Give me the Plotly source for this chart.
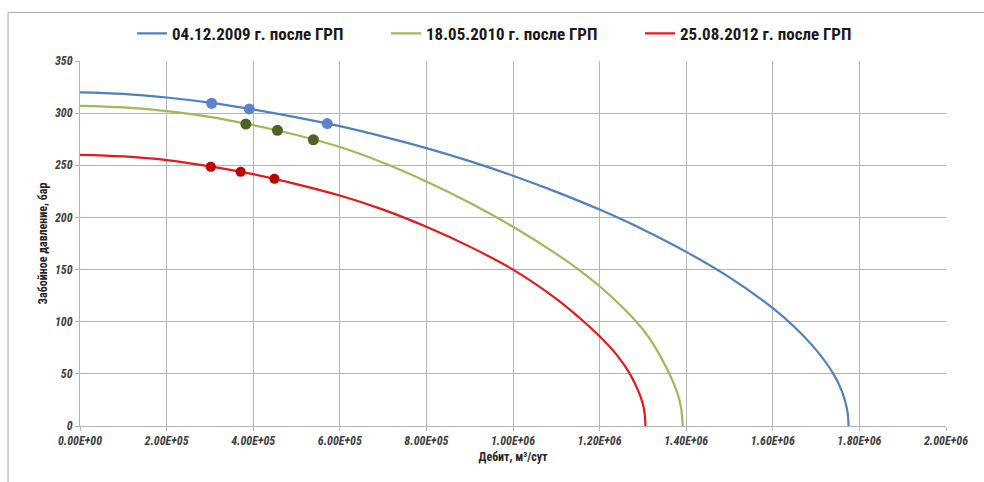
import plotly.graph_objects as go

# ---- data ----
# Дебит in units of 1e5 m3/сут, Забойное давление in бар
blue_q = [0, 1, 2, 3, 4, 5, 6, 7, 8, 9, 10, 11, 12, 13, 14, 15, 16, 16.5, 17.0, 17.4, 17.6, 17.7, 17.73, 17.75]
blue_p = [320, 318.5, 315, 310, 303.5, 296, 287.5, 277.5, 266.5, 254, 240, 224.5, 207.5, 188.5, 167, 142.5, 113, 95, 73, 50, 33, 19, 12, 0]

green_q = [0, 1, 2, 3, 4, 5, 6, 7, 8, 9, 10, 11, 11.5, 12, 12.5, 13, 13.3, 13.6, 13.8, 13.88, 13.92]
green_p = [307, 305.5, 302, 296.5, 288.5, 279, 267.5, 252.5, 234.5, 214, 191, 165, 150.5, 134, 115, 92.5, 74.5, 51, 31, 18, 0]

red_q = [0, 1, 2, 3, 4, 5, 6, 7, 8, 9, 10, 11, 11.5, 12, 12.4, 12.7, 12.9, 13.0, 13.04, 13.06]
red_p = [260, 258.5, 255, 249, 241.5, 232, 221, 207.5, 191, 172, 150, 122, 105, 86, 68, 50, 33, 21, 12, 0]

blue_pts_q = [3.04, 3.91, 5.71]
blue_pts_p = [309.5, 304, 290]
green_pts_q = [3.83, 4.56, 5.39]
green_pts_p = [289.5, 283.5, 274.5]
red_pts_q = [3.02, 3.71, 4.49]
red_pts_p = [248.5, 243.7, 237]

series_names = ["04.12.2009 г. после ГРП", "18.05.2010 г. после ГРП", "25.08.2012 г. после ГРП"]

x_tickvals = [0, 2e5, 4e5, 6e5, 8e5, 1e6, 1.2e6, 1.4e6, 1.6e6, 1.8e6, 2e6]
x_ticktext = ["0.00E+00", "2.00E+05", "4.00E+05", "6.00E+05", "8.00E+05", "1.00E+06",
              "1.20E+06", "1.40E+06", "1.60E+06", "1.80E+06", "2.00E+06"]
y_tickvals = [0, 50, 100, 150, 200, 250, 300, 350]

SCALE = 1e5

def sc(v):
    return [a * SCALE for a in v]

line_colors = ["#4F81BD", "#9BBB59", "#E3191B"]
dot_colors = ["#5B83C9", "#4F6228", "#C00000"]

fig = go.Figure()
curves = [(blue_q, blue_p), (green_q, green_p), (red_q, red_p)]
pts = [(blue_pts_q, blue_pts_p), (green_pts_q, green_pts_p), (red_pts_q, red_pts_p)]

for (q, p), name, col in zip(curves, series_names, line_colors):
    fig.add_trace(go.Scatter(x=sc(q), y=p, mode="lines", name=name,
                             line=dict(color=col, width=2.2, shape="spline", smoothing=1.0)))
for (q, p), col, sz in zip(pts, dot_colors, [11, 11, 10]):
    fig.add_trace(go.Scatter(x=sc(q), y=p, mode="markers", showlegend=False,
                             marker=dict(color=col, size=sz, line=dict(width=0))))

FONT = "Liberation Sans Narrow, Roboto Condensed, Roboto, Liberation Sans, sans-serif"
tick_font = dict(family=FONT, size=12, color="#404040", weight="bold", style="italic")
title_font = dict(family=FONT, size=12, color="#262626", weight="bold")

fig.update_layout(
    width=984, height=482,
    margin=dict(l=80, r=38, t=61, b=56, autoexpand=False),
    paper_bgcolor="white", plot_bgcolor="white",
    legend=dict(orientation="h", x=0.5, xanchor="center", yref="container", y=0.93,
                yanchor="middle", bgcolor="rgba(0,0,0,0)",
                font=dict(family=FONT, size=17, color="#1a1a1a", weight="bold"),
                itemwidth=30, entrywidth=209, tracegroupgap=0),
    xaxis=dict(range=[0, 2e6], tickvals=x_tickvals, ticktext=x_ticktext,
               showgrid=True, gridcolor="#B4B4B4", gridwidth=1,
               showline=True, linecolor="#B4B4B4", linewidth=1,
               ticks="outside", ticklen=4, tickcolor="#B4B4B4",
               tickfont=tick_font, zeroline=False,
               title=dict(text="Дебит, м³/сут", font=title_font, standoff=5)),
    yaxis=dict(range=[0, 350], tickvals=y_tickvals,
               showgrid=True, gridcolor="#B4B4B4", gridwidth=1,
               showline=True, linecolor="#B4B4B4", linewidth=1,
               ticks="outside", ticklen=4, tickcolor="#B4B4B4",
               tickfont=tick_font, zeroline=False,
               title=dict(text="Забойное давление, бар", font=title_font, standoff=4)),
)

# outer frame (top and left edges visible in the reference)
fig.add_shape(type="line", xref="paper", yref="paper", x0=-0.0831, x1=1.1, y0=1.1331, y1=1.1331,
              line=dict(color="#A6A6A6", width=1))
fig.add_shape(type="line", xref="paper", yref="paper", x0=-0.0831, x1=-0.0831, y0=1.1331, y1=-0.2,
              line=dict(color="#A6A6A6", width=1))

fig.write_html("out.html")
